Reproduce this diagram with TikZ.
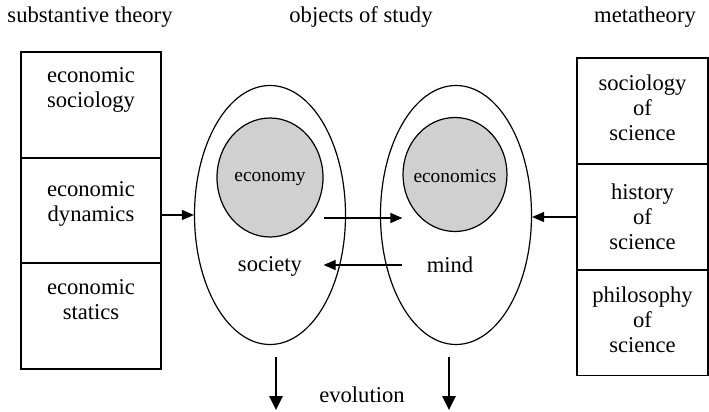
\documentclass[tikz,border=0pt]{standalone}
\usepackage{fontspec}
\setmainfont{Liberation Serif}
\usepackage{tikz}
\usetikzlibrary{arrows.meta,shapes,positioning}
\definecolor{eggrey}{RGB}{208,208,208}
\tikzstyle{box} = [draw, line width=0.6pt, minimum width=70pt, minimum height=53pt, inner sep=0pt]
\tikzstyle{boxtext} = [align=center, inner sep=0pt, font=\fontsize{11.3}{12.6}\selectfont]
\tikzstyle{egg} = [draw, ellipse, line width=0.6pt, inner sep=0pt]
\tikzstyle{conn} = [line width=0.6pt, -{Triangle[length=6pt,width=5pt]}]
\tikzstyle{evo} = [line width=1.3pt, -{Triangle[length=7pt,width=6.5pt]}]

\begin{document}
\begin{tikzpicture}[x=0.5pt, y=-0.5pt]
\useasboundingbox (0,0) rectangle (709,412);

% Headings
\node[boxtext] (hsub) at (90,17) {substantive theory};
\node[boxtext] (hobj) at (361,17) {objects of study};
\node[boxtext] (hmeta) at (645,17) {metatheory};

% Substantive theory boxes
\node[box] (ecsoc) at (91,105) {};
\node[box] (ecdyn) at (91,210.5) {};
\node[box] (ecsta) at (91,316) {};
\node[boxtext] (tecsoc) at (91,90) {economic\\sociology};
\node[boxtext] (tecdyn) at (91,204) {economic\\dynamics};
\node[boxtext] (tecsta) at (91,300) {economic\\statics};

% Metatheory boxes
\node[box, minimum width=65.5pt] (socsci) at (642.5,111) {};
\node[box, minimum width=65.5pt] (hist) at (642.5,217) {};
\node[box, minimum width=65.5pt] (phil) at (642.5,322.5) {};
\node[boxtext] (tsocsci) at (642.5,108) {sociology\\of\\science};
\node[boxtext] (thist) at (642.5,217) {history\\of\\science};
\node[boxtext] (tphil) at (642.5,320) {philosophy\\of\\science};

% Objects of study
\node[egg, minimum width=75.5pt, minimum height=129.5pt] (socell) at (270,215) {};
\node[egg, minimum width=75.5pt, minimum height=129.5pt] (mindell) at (456,215) {};
\node[egg, fill=eggrey, minimum width=53pt, minimum height=59.5pt] (economy) at (270,177.5) {};
\node[egg, fill=eggrey, minimum width=52pt, minimum height=57pt] (economics) at (455,174.5) {};
\node[inner sep=0pt, font=\fontsize{9.7}{11}\selectfont] (teconomy) at (270,179) {economy};
\node[inner sep=0pt, font=\fontsize{9.7}{11}\selectfont] (teconomics) at (455,176) {economics};
\node[boxtext] (society) at (270,266) {society};
\node[boxtext] (mind) at (450,265) {mind};

% Connectors
\coordinate (mid) at (0,218);
\draw[conn] (ecdyn.east |- socell.west) -- (socell.west);
\draw[conn] (hist.west) -- (mindell.east |- hist.west);
\draw[conn] (economy.east |- mid) -- (economics.west |- mid);
\draw[conn] (economics.west |- mind) -- (economy.east |- mind);

% Evolution
\node[boxtext] (evol) at (362,395) {evolution};
\coordinate (ev1) at (276,357);
\coordinate (ev2) at (449,357);
\draw[evo] (ev1) -- ++(0,53);
\draw[evo] (ev2) -- ++(0,53);
\end{tikzpicture}
\end{document}
